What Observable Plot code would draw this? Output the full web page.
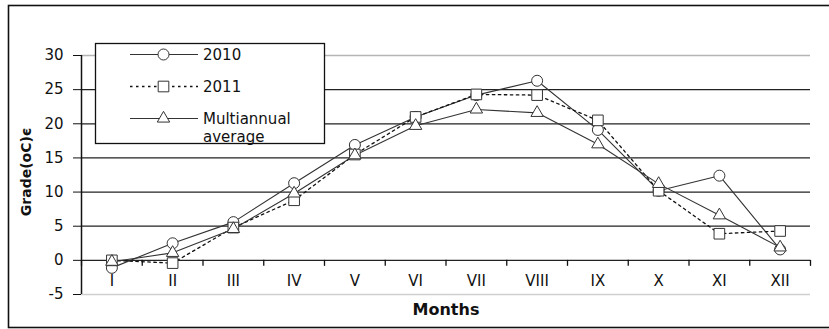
<!DOCTYPE html>
<html>
<head>
<meta charset="utf-8">
<script src="https://cdn.jsdelivr.net/npm/d3@7"></script>
<script src="https://cdn.jsdelivr.net/npm/@observablehq/plot@0.6"></script>
<style>
  html, body { margin: 0; padding: 0; background: #fff; overflow: hidden; }
  #chart { width: 829px; height: 329px; }
</style>
</head>
<body>
<div id="chart"></div>
<script>
const months = ["I","II","III","IV","V","VI","VII","VIII","IX","X","XI","XII"];
const y2010 = [-1.1, 2.5, 5.6, 11.3, 16.9, 21.0, 24.2, 26.3, 19.1, 10.2, 12.4, 1.6];
const y2011 = [0.0, -0.4, 4.8, 8.8, 15.5, 21.0, 24.3, 24.2, 20.5, 10.2, 3.9, 4.3];
const yAvg  = [-0.2, 1.1, 4.6, 9.8, 15.4, 19.7, 22.1, 21.6, 17.0, 11.2, 6.6, 1.9];
const yTicks = [-5, 0, 5, 10, 15, 20, 25, 30];
const seriesNames = ["2010", "2011", "Multiannual average"];

const FONT = "'DejaVu Sans', 'Liberation Sans', Arial, sans-serif";
const rows = (vals, name) => vals.map((v, i) => ({month: months[i], idx: i + 0.5, value: v, series: name}));
const d2010 = rows(y2010, seriesNames[0]);
const d2011 = rows(y2011, seriesNames[1]);
const dAvg = rows(yAvg, seriesNames[2]);
const boundaries = d3.range(months.length + 1);
const monthPos = months.map((m, i) => ({month: m, idx: i + 0.5}));
const dark = "#333";

const plot = Plot.plot({
  width: 829,
  height: 329,
  marginLeft: 81,
  marginRight: 19,
  marginTop: 55,
  marginBottom: 35,
  style: {fontFamily: FONT, fontSize: "15px", background: "white"},
  x: {type: "linear", domain: [0, months.length], axis: null},
  y: {domain: [-5, 30], ticks: yTicks},
  marks: [
    Plot.ruleY(yTicks.filter(t => t > -5 && t < 30), {stroke: "#222", strokeWidth: 1.3}),
    Plot.ruleY([30], {stroke: "#b5b5b5", strokeWidth: 1.3}),
    Plot.ruleY([-5], {stroke: "#cfcfcf", strokeWidth: 1.3}),
    Plot.ruleX(boundaries, {x: d => d, y1: 0, y2: 0, insetBottom: -6, stroke: "#111", strokeWidth: 1.3}),
    Plot.ruleX([0], {stroke: "#111", strokeWidth: 1.5}),
    Plot.axisY({ticks: yTicks, tickSize: 8, tickPadding: 10, tickFormat: d => String(d), fontSize: 15, stroke: "#111", fill: "#111", label: null}),
    Plot.text(monthPos, {x: "idx", frameAnchor: "bottom", dy: -9, text: "month", fontSize: 15, fill: "#111"}),
    Plot.text(["Months"], {frameAnchor: "bottom", dy: 20, text: d => d, fontSize: 16, fontWeight: "bold", fill: "#111"}),
    Plot.text(["Grade(oC)є"], {frameAnchor: "left", textAnchor: "middle", dx: -55, dy: -3, rotate: -90, text: d => d, fontSize: 14, fontWeight: "bold", fill: "#111"}),
    Plot.line(d2010, {x: "idx", y: "value", stroke: dark, strokeWidth: 1.1}),
    Plot.line(d2011, {x: "idx", y: "value", stroke: "#111", strokeWidth: 1.3, strokeDasharray: "2.5,3.5"}),
    Plot.line(dAvg, {x: "idx", y: "value", stroke: dark, strokeWidth: 1.1}),
    Plot.dot(d2010, {x: "idx", y: "value", symbol: "circle", r: 5.5, fill: "white", stroke: dark, strokeWidth: 1}),
    Plot.dot(d2011, {x: "idx", y: "value", symbol: "square", r: 6, fill: "white", stroke: dark, strokeWidth: 1}),
    Plot.dot(dAvg, {x: "idx", y: "value", symbol: "triangle", r: 4.6, fill: "white", stroke: dark, strokeWidth: 1})
  ]
});

document.getElementById("chart").appendChild(plot);

const svg = d3.select(plot);
svg.append("rect")
  .attr("x", 8.5).attr("y", 5.5).attr("width", 840).attr("height", 322)
  .attr("fill", "none").attr("stroke", "#111").attr("stroke-width", 1.6);

const lg = svg.append("g").attr("font-family", FONT).attr("text-anchor", "start");
lg.append("rect").attr("x", 95.5).attr("y", 43.5).attr("width", 229).attr("height", 100)
  .attr("fill", "white").attr("stroke", "#111").attr("stroke-width", 1.3);
const entries = [
  {lines: ["2010"], y: 54.5, dash: null, sym: d3.symbolCircle, size: Math.PI * 5.5 * 5.5},
  {lines: ["2011"], y: 86.5, dash: "2.5,3.5", sym: d3.symbolSquare, size: Math.PI * 36},
  {lines: ["Multiannual", "average"], y: 118.5, dash: null, sym: d3.symbolTriangle, size: Math.PI * 4.6 * 4.6}
];
entries.forEach(e => {
  lg.append("line").attr("x1", 130).attr("x2", 198).attr("y1", e.y).attr("y2", e.y)
    .attr("stroke", e.dash ? "#111" : dark).attr("stroke-width", e.dash ? 1.3 : 1.1)
    .attr("stroke-dasharray", e.dash);
  lg.append("path").attr("d", d3.symbol(e.sym, e.size)()).attr("transform", `translate(163.5,${e.y})`)
    .attr("fill", "white").attr("stroke", dark).attr("stroke-width", 1);
  e.lines.forEach((t, k) => {
    lg.append("text").attr("x", 203).attr("y", e.y + k * 18.5).attr("dy", "0.35em")
      .attr("font-size", 15).attr("fill", "#111").attr("text-anchor", "start").text(t);
  });
});
</script>
</body>
</html>
